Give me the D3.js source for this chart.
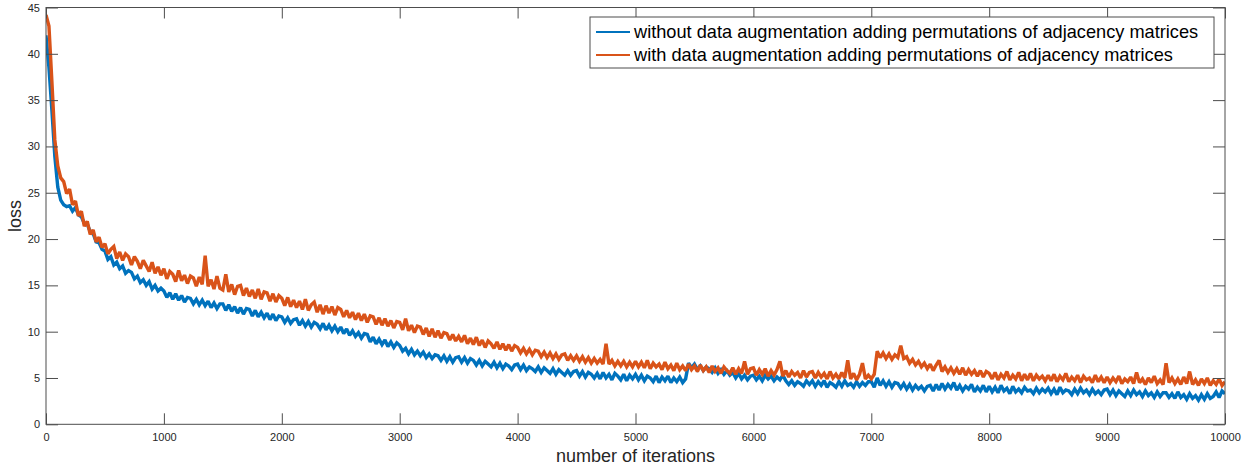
<!DOCTYPE html>
<html>
<head>
<meta charset="utf-8">
<script src="https://cdn.jsdelivr.net/npm/d3@7"></script>
<style>
  html, body { margin: 0; padding: 0; background: #fff; }
  svg { display: block; font-family: "Liberation Sans", Arial, Helvetica, sans-serif; }
</style>
</head>
<body>
<svg id="chart" width="1242" height="465"></svg>
<script>
// Training loss logged every 25 iterations
const iterStep = 25;

const lossWithout = [
  42.0, 38.5, 33.9, 28.9, 25.6, 24.2, 23.7, 23.5, 23.6, 23.0, 23.4, 22.6, 22.4, 21.7, 21.6, 20.8, 20.6, 19.7, 19.6, 18.9,
  18.7, 17.8, 18.1, 17.2, 17.5, 16.8, 17.1, 16.3, 16.6, 16.4, 15.7, 16.0, 15.3, 15.6, 15.0, 15.4, 14.6, 15.0, 14.4, 14.7,
  14.4, 13.7, 14.2, 13.5, 14.1, 13.4, 13.9, 13.2, 13.7, 13.6, 13.0, 13.5, 12.9, 13.4, 12.8, 13.3, 12.6, 13.1, 12.5, 13.0,
  13.0, 12.3, 12.9, 12.2, 12.7, 12.0, 12.6, 11.9, 12.5, 12.4, 11.7, 12.3, 11.6, 12.1, 11.5, 12.0, 11.3, 11.9, 11.2, 11.7,
  11.6, 11.0, 11.5, 10.9, 11.3, 11.4, 10.7, 11.2, 10.6, 11.1, 10.5, 11.0, 10.8, 10.3, 10.9, 10.2, 10.7, 10.1, 10.6, 10.0,
  10.5, 9.8, 10.3, 9.6, 10.1, 9.5, 9.9, 9.3, 9.8, 9.7, 8.9, 9.4, 8.7, 9.2, 8.6, 9.1, 8.4, 8.9, 8.3, 8.8,
  8.5, 7.9, 8.2, 7.6, 8.1, 7.5, 7.9, 7.4, 7.8, 7.2, 7.6, 7.1, 7.5, 7.4, 6.9, 7.4, 6.8, 7.3, 6.7, 7.2,
  7.3, 6.7, 7.2, 6.6, 7.1, 6.9, 6.4, 6.9, 6.3, 6.8, 6.5, 6.2, 6.7, 6.1, 6.6, 6.0, 6.5, 6.3, 5.9, 6.4,
  6.5, 5.9, 6.4, 5.8, 6.2, 6.0, 5.7, 6.2, 5.6, 6.1, 5.8, 5.5, 6.0, 5.4, 5.9, 5.6, 5.3, 5.8, 5.3, 5.7,
  5.8, 5.2, 5.7, 5.1, 5.6, 5.4, 5.0, 5.5, 4.9, 5.6, 5.0, 5.4, 4.8, 5.5, 5.2, 4.8, 5.4, 4.7, 5.3, 4.9,
  5.4, 4.8, 5.3, 4.7, 5.2, 5.0, 4.6, 5.2, 4.5, 5.1, 4.7, 5.2, 4.5, 5.0, 4.6, 5.1, 4.5, 4.9, 6.6, 6.1,
  6.5, 5.9, 6.3, 5.8, 6.2, 6.0, 5.6, 6.1, 5.5, 5.9, 5.4, 5.8, 5.3, 5.6, 5.0, 5.5, 4.9, 5.3, 4.8, 5.2,
  5.3, 4.8, 5.2, 4.7, 5.3, 4.9, 5.2, 4.7, 5.1, 4.8, 5.3, 4.7, 4.3, 4.7, 4.2, 4.6, 4.4, 4.1, 4.7, 4.3,
  4.7, 4.1, 4.6, 4.2, 4.7, 4.0, 4.5, 4.3, 4.0, 4.6, 4.1, 4.7, 4.2, 4.4, 4.0, 4.6, 4.1, 4.5, 4.2, 4.6,
  4.6, 4.0, 5.0, 4.2, 4.7, 4.1, 4.6, 4.0, 4.5, 4.4, 3.9, 4.4, 3.8, 4.3, 3.7, 4.2, 3.8, 4.1, 3.6, 4.1,
  4.2, 3.6, 4.3, 3.7, 4.4, 3.8, 4.3, 3.9, 4.5, 3.7, 4.2, 3.6, 4.1, 3.8, 4.3, 3.5, 4.0, 3.6, 4.2, 3.5,
  4.1, 3.5, 4.0, 3.4, 4.2, 3.6, 3.9, 3.3, 4.1, 3.5, 3.8, 3.4, 4.0, 3.6, 3.7, 3.3, 3.9, 3.4, 3.8, 3.5,
  3.9, 3.3, 3.8, 3.2, 4.0, 3.4, 3.7, 3.6, 3.2, 3.8, 3.3, 3.9, 3.4, 3.7, 3.2, 3.8, 3.3, 3.6, 3.2, 3.7,
  3.8, 3.2, 3.7, 3.1, 3.6, 3.3, 3.0, 3.6, 3.1, 3.7, 3.2, 3.5, 3.0, 3.6, 3.1, 3.4, 2.9, 3.5, 3.0, 3.4,
  3.4, 2.9, 3.3, 2.8, 3.5, 2.9, 3.2, 2.7, 3.3, 2.8, 3.1, 2.6, 3.2, 2.7, 3.3, 2.8, 3.0, 3.5, 2.9, 3.6,
  3.3
];

const lossWith = [
  44.2, 43.0, 37.0, 30.7, 27.9, 26.6, 26.2, 24.9, 25.4, 23.7, 24.1, 22.5, 23.0, 21.4, 21.9, 20.5, 21.0, 19.7, 20.2, 19.1,
  19.5, 18.4, 18.9, 19.2, 17.9, 18.6, 17.7, 18.4, 18.1, 17.2, 18.1, 17.6, 16.8, 17.7, 17.1, 16.5, 17.5, 16.3, 17.0, 16.1,
  16.8, 15.7, 16.5, 16.2, 15.4, 16.6, 15.5, 16.1, 15.2, 16.0, 15.8, 14.9, 15.9, 15.1, 18.2, 14.9, 15.6, 14.6, 16.0, 14.7,
  14.5, 16.2, 14.3, 15.1, 14.0, 14.9, 15.0, 13.9, 14.7, 13.8, 14.5, 13.6, 14.6, 13.5, 14.3, 14.2, 13.3, 14.1, 13.2, 13.9,
  13.6, 12.8, 13.7, 12.7, 13.4, 12.6, 13.3, 12.4, 13.5, 12.3, 12.9, 13.2, 12.1, 12.9, 11.9, 12.8, 12.0, 12.7, 11.8, 12.6,
  12.4, 11.6, 12.3, 11.5, 12.1, 11.3, 12.0, 11.2, 11.9, 11.0, 11.7, 11.6, 10.8, 11.5, 10.7, 11.4, 10.6, 11.2, 10.4, 11.1,
  11.0, 10.2, 11.4, 10.1, 10.7, 9.9, 10.6, 10.5, 9.7, 10.4, 9.5, 10.3, 9.4, 10.1, 9.3, 9.9, 9.8, 9.1, 9.7, 9.0,
  9.5, 8.9, 9.6, 8.7, 9.3, 8.6, 9.4, 8.5, 9.1, 8.3, 9.0, 8.7, 8.2, 8.9, 8.1, 8.7, 8.0, 8.6, 7.9, 8.5,
  8.3, 7.7, 8.2, 7.6, 8.1, 7.5, 8.0, 7.9, 7.3, 7.8, 7.2, 7.7, 7.1, 7.6, 7.0, 7.5, 7.6, 6.9, 7.4, 6.9,
  7.4, 6.8, 7.3, 6.7, 7.2, 6.6, 7.1, 6.6, 7.0, 6.5, 8.7, 6.5, 6.9, 6.3, 6.8, 6.3, 6.8, 6.2, 6.7, 6.2,
  6.8, 6.2, 6.7, 6.1, 6.9, 6.0, 6.6, 6.2, 6.5, 5.9, 6.7, 6.0, 6.4, 5.8, 6.6, 5.9, 6.3, 5.8, 6.5, 5.9,
  6.3, 5.7, 6.4, 5.8, 6.2, 5.6, 6.3, 5.7, 6.1, 5.5, 6.2, 5.8, 5.5, 6.1, 5.4, 6.0, 5.5, 6.8, 5.4, 6.0,
  6.1, 5.3, 5.9, 5.4, 6.0, 5.2, 5.8, 5.3, 5.9, 6.8, 5.2, 5.8, 5.1, 5.7, 5.3, 5.6, 5.0, 5.8, 5.1, 5.6,
  5.7, 5.0, 5.6, 5.1, 5.5, 4.9, 5.7, 5.0, 5.4, 4.9, 5.6, 5.0, 6.9, 4.9, 5.5, 4.8, 5.4, 6.6, 4.9, 5.3,
  4.9, 5.4, 7.9, 7.2, 7.7, 7.1, 7.6, 7.0, 7.5, 7.2, 8.5, 7.1, 7.3, 6.6, 7.0, 6.4, 6.8, 6.2, 6.6, 6.0,
  6.5, 5.8, 6.4, 6.9, 5.7, 6.2, 5.6, 6.1, 5.5, 6.0, 5.4, 6.1, 5.3, 5.9, 5.4, 5.8, 5.2, 5.8, 5.1, 5.7,
  5.5, 4.9, 5.6, 4.8, 5.4, 5.0, 5.7, 4.8, 5.3, 4.9, 5.6, 4.7, 5.4, 4.8, 5.5, 4.7, 5.3, 4.9, 5.2, 4.7,
  5.3, 4.7, 5.4, 4.6, 5.2, 4.8, 5.5, 4.6, 5.1, 4.7, 5.3, 4.5, 5.2, 4.8, 5.0, 4.5, 5.3, 4.6, 5.1, 4.5,
  5.1, 4.5, 5.0, 4.6, 5.2, 4.4, 4.9, 4.6, 5.1, 4.4, 5.6, 4.5, 4.9, 4.3, 5.0, 4.5, 5.2, 4.4, 4.8, 4.3,
  6.6, 4.5, 5.0, 4.4, 4.9, 4.3, 5.1, 4.4, 5.7, 4.3, 4.8, 4.2, 4.9, 4.4, 5.0, 4.2, 4.7, 4.3, 4.9, 4.2,
  4.6
];

const seriesNames = [
  "without data augmentation adding permutations of adjacency matrices",
  "with data augmentation adding permutations of adjacency matrices"
];
const seriesColors = ["#0072BD", "#D95319"];

const xTicks = [0, 1000, 2000, 3000, 4000, 5000, 6000, 7000, 8000, 9000, 10000];
const yTicks = [0, 5, 10, 15, 20, 25, 30, 35, 40, 45];

const xLabel = "number of iterations";
const yLabel = "loss";

// ---- layout ----
const svg = d3.select("#chart");
const plot = { left: 46, right: 1225, top: 7.5, bottom: 424.3 };
const axisColor = "#4d4d4d";
const textColor = "#262626";

const x = d3.scaleLinear().domain([0, 10000]).range([plot.left, plot.right]);
const y = d3.scaleLinear().domain([0, 45]).range([plot.bottom, plot.top]);

const series = [lossWithout, lossWith].map((vals, k) => ({
  name: seriesNames[k],
  color: seriesColors[k],
  points: vals.map((v, i) => ({ it: i * iterStep, v }))
}));

// clip the curves to the axes box
svg.append("defs").append("clipPath").attr("id", "plot-clip")
  .append("rect")
  .attr("x", plot.left).attr("y", plot.top)
  .attr("width", plot.right - plot.left).attr("height", plot.bottom - plot.top);

const line = d3.line().x(d => x(d.it)).y(d => y(d.v));

svg.append("g").attr("clip-path", "url(#plot-clip)")
  .selectAll("path")
  .data(series)
  .join("path")
  .attr("fill", "none")
  .attr("stroke", d => d.color)
  .attr("stroke-width", 3.4)
  .attr("stroke-linejoin", "miter")
  .attr("stroke-miterlimit", 2)
  .attr("d", d => line(d.points));

// ---- axes (ticks point inward, mirrored on all four sides) ----
function styleAxis(g) {
  g.selectAll(".domain").remove();
  g.selectAll(".tick line").attr("stroke", axisColor);
  g.selectAll(".tick text")
    .attr("fill", textColor)
    .style("font-size", "11px")
    .style("font-family", "'Liberation Sans', Arial, Helvetica, sans-serif");
}

svg.append("g")
  .attr("transform", `translate(0,${plot.bottom})`)
  .call(d3.axisBottom(x).tickValues(xTicks).tickFormat(d3.format("d"))
    .tickSizeInner(-11).tickSizeOuter(0).tickPadding(8.5))
  .call(styleAxis);

svg.append("g")
  .attr("transform", `translate(0,${plot.top})`)
  .call(d3.axisTop(x).tickValues(xTicks).tickFormat("")
    .tickSizeInner(-11).tickSizeOuter(0))
  .call(styleAxis);

svg.append("g")
  .attr("transform", `translate(${plot.left},0)`)
  .call(d3.axisLeft(y).tickValues(yTicks).tickFormat(d3.format("d"))
    .tickSizeInner(-12).tickSizeOuter(0).tickPadding(6))
  .call(styleAxis);

svg.append("g")
  .attr("transform", `translate(${plot.right},0)`)
  .call(d3.axisRight(y).tickValues(yTicks).tickFormat("")
    .tickSizeInner(-12).tickSizeOuter(0))
  .call(styleAxis);

// axes box
svg.append("rect")
  .attr("x", plot.left).attr("y", plot.top)
  .attr("width", plot.right - plot.left).attr("height", plot.bottom - plot.top)
  .attr("fill", "none").attr("stroke", axisColor).attr("stroke-width", 1);

// ---- axis labels ----
svg.append("text")
  .attr("x", (plot.left + plot.right) / 2)
  .attr("y", 462)
  .attr("text-anchor", "middle")
  .attr("fill", textColor)
  .style("font-size", "18px")
  .text(xLabel);

svg.append("text")
  .attr("transform", `translate(21,${(plot.top + plot.bottom) / 2}) rotate(-90)`)
  .attr("text-anchor", "middle")
  .attr("fill", textColor)
  .style("font-size", "18px")
  .text(yLabel);

// ---- legend ----
const legend = svg.append("g").attr("transform", "translate(590,17)");
legend.append("rect")
  .attr("x", 0).attr("y", 0).attr("width", 624).attr("height", 51)
  .attr("fill", "#fff").attr("stroke", axisColor).attr("stroke-width", 1);

const items = legend.selectAll("g.item")
  .data(series)
  .join("g")
  .attr("class", "item")
  .attr("transform", (d, i) => `translate(0,${15 + i * 23})`);

items.append("line")
  .attr("x1", 6).attr("x2", 40).attr("y1", 0).attr("y2", 0)
  .attr("stroke", d => d.color).attr("stroke-width", 2);

items.append("text")
  .attr("x", 44).attr("y", 0).attr("dy", "0.35em")
  .attr("fill", "#000")
  .style("font-size", "18.2px")
  .text(d => d.name);
</script>
</body>
</html>
